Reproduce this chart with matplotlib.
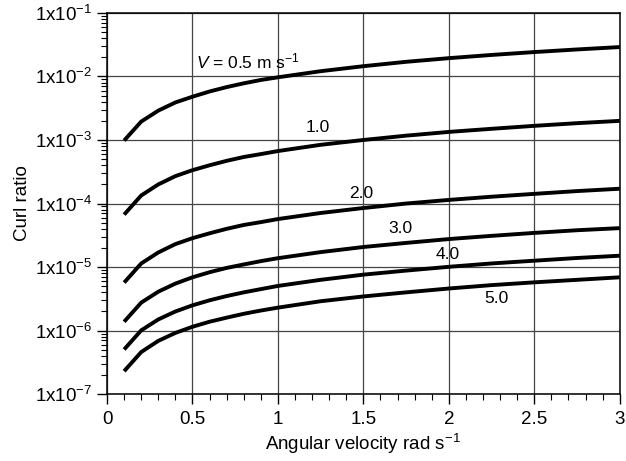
import numpy as np
import matplotlib
matplotlib.use("Agg")
import matplotlib.pyplot as plt
from matplotlib.ticker import LogLocator, MultipleLocator

plt.rcParams['font.family'] = 'Liberation Sans'
plt.rcParams['mathtext.fontset'] = 'custom'
plt.rcParams['mathtext.rm'] = 'Liberation Sans'
plt.rcParams['mathtext.it'] = 'Liberation Sans:italic'

# angular velocity (rad/s)
omega = [0.1, 0.2, 0.3, 0.4, 0.5, 0.6, 0.7, 0.8, 0.9, 1.0,
         1.25, 1.5, 1.75, 2.0, 2.25, 2.5, 2.75, 3.0]

# curl ratio for each flow speed
v05 = [9.8e-4, 1.95e-3, 2.9e-3, 3.9e-3, 4.8e-3, 5.8e-3, 6.8e-3, 7.8e-3, 8.8e-3, 9.7e-3,
       1.21e-2, 1.45e-2, 1.7e-2, 1.94e-2, 2.18e-2, 2.42e-2, 2.66e-2, 2.9e-2]
v10 = [6.7e-5, 1.34e-4, 2.0e-4, 2.7e-4, 3.35e-4, 4.0e-4, 4.7e-4, 5.4e-4, 6.0e-4, 6.7e-4,
       8.4e-4, 1.0e-3, 1.17e-3, 1.34e-3, 1.5e-3, 1.67e-3, 1.84e-3, 2.0e-3]
v20 = [5.7e-6, 1.14e-5, 1.7e-5, 2.3e-5, 2.85e-5, 3.4e-5, 4.0e-5, 4.6e-5, 5.1e-5, 5.7e-5,
       7.1e-5, 8.5e-5, 1.0e-4, 1.14e-4, 1.28e-4, 1.42e-4, 1.57e-4, 1.71e-4]
v30 = [1.38e-6, 2.76e-6, 4.1e-6, 5.5e-6, 6.9e-6, 8.3e-6, 9.7e-6, 1.1e-5, 1.24e-5, 1.38e-5,
       1.72e-5, 2.07e-5, 2.4e-5, 2.76e-5, 3.1e-5, 3.45e-5, 3.8e-5, 4.1e-5]
v40 = [5.05e-7, 1.01e-6, 1.5e-6, 2.0e-6, 2.5e-6, 3.0e-6, 3.5e-6, 4.0e-6, 4.5e-6, 5.05e-6,
       6.3e-6, 7.6e-6, 8.8e-6, 1.01e-5, 1.14e-5, 1.26e-5, 1.39e-5, 1.51e-5]
v50 = [2.3e-7, 4.6e-7, 6.9e-7, 9.2e-7, 1.15e-6, 1.38e-6, 1.6e-6, 1.84e-6, 2.07e-6, 2.3e-6,
       2.9e-6, 3.45e-6, 4.0e-6, 4.6e-6, 5.2e-6, 5.75e-6, 6.3e-6, 6.9e-6]

labels = [r'$\it{V}$ = 0.5 m s$^{\mathregular{-1}}$', '1.0', '2.0', '3.0', '4.0', '5.0']
label_x = [0.52, 1.234, 1.485, 1.717, 1.994, 2.279]
label_y = [1.7e-2, 1.55e-3, 1.46e-4, 4.1e-5, 1.6e-5, 3.2e-6]

xticks = [0, 0.5, 1, 1.5, 2, 2.5, 3]
xticklabels = ['0', '0.5', '1', '1.5', '2', '2.5', '3']
yexp = [7, 6, 5, 4, 3, 2, 1]

fig = plt.figure(figsize=(6.26, 4.61), dpi=100)
ax = fig.add_axes([0.171, 0.145, 0.819, 0.827])

for s in [v05, v10, v20, v30, v40, v50]:
    ax.plot(omega, s, color='black', lw=2.8, solid_capstyle='butt')

for i, t in enumerate(labels):
    ha = 'left' if i == 0 else 'center'
    ax.text(label_x[i], label_y[i], t, ha=ha, va='center', fontsize=12.5)

ax.set_yscale('log')
ax.set_xlim(0, 3)
ax.set_ylim(1e-7, 1e-1)
ax.set_xticks(xticks)
ax.set_xticklabels(xticklabels)
ax.xaxis.set_minor_locator(MultipleLocator(0.1))
ax.set_yticks([10.0 ** -k for k in yexp])
ax.set_yticklabels([r'1x10$^{\mathregular{-%d}}$' % k for k in yexp])
ax.yaxis.set_minor_locator(LogLocator(base=10, subs=np.arange(2, 10)))
ax.tick_params(which='major', direction='out', length=7, width=1, labelsize=13.5, color='black')
ax.tick_params(which='minor', direction='out', length=4, width=0.8)
ax.tick_params(axis='x', pad=5)
ax.grid(True, which='major', color='#444444', lw=0.9)
for sp in ax.spines.values():
    sp.set_linewidth(1.1)

ax.set_xlabel(r'Angular velocity rad s$^{\mathregular{-1}}$', fontsize=13.5, labelpad=3)
ax.set_ylabel('Curl ratio', fontsize=13.5, labelpad=3)

fig.savefig('out.png', dpi=100)
